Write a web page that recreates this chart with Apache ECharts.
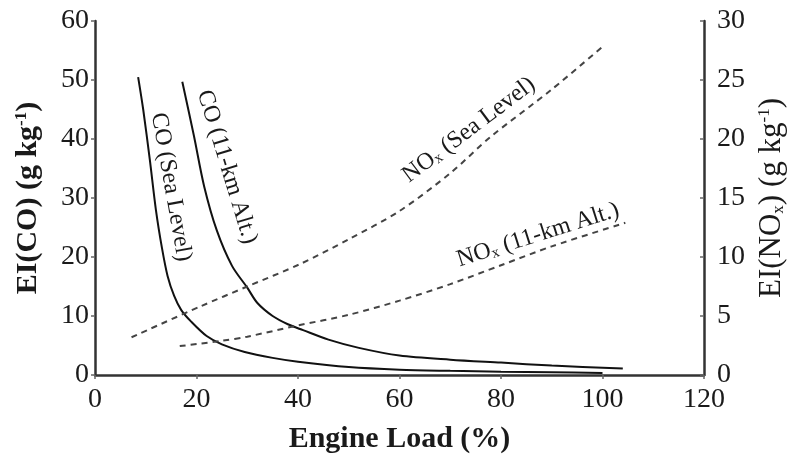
<!DOCTYPE html>
<html>
<head>
<meta charset="utf-8">
<script src="https://cdn.jsdelivr.net/npm/echarts@6/dist/echarts.min.js"></script>
<style>
  html, body { margin: 0; padding: 0; background: #fff; }
  #chart { width: 788px; height: 463px; }
</style>
</head>
<body>
<div id="chart"></div>
<script>
// engine load (%) and emission index values
const coSeaLoad = [8.5, 9.5, 10.8, 12, 13.2, 14.3, 15.6, 17, 19, 22, 25, 29.5, 35, 40, 50, 60, 70, 80, 90, 100];
const coSeaVal = [50.5, 45, 36.5, 28, 21.5, 16.8, 13.4, 11, 9, 6.6, 5.2, 3.9, 2.9, 2.25, 1.35, 0.9, 0.7, 0.55, 0.45, 0.35];

const coAltLoad = [17.2, 19.5, 21.5, 24, 27, 30, 32, 35, 38, 41, 46, 52, 60, 70, 80, 90, 104];
const coAltVal = [49.7, 40.5, 32, 24.5, 18.5, 14.8, 12.2, 10, 8.6, 7.6, 6, 4.6, 3.3, 2.6, 2.1, 1.6, 1.1];

const noxSeaLoad = [7.2, 20.7, 30, 40.4, 50, 60, 70, 78, 90, 100.2];
const noxSeaVal = [3.2, 5.8, 7.5, 9.4, 11.5, 13.9, 17.1, 20.2, 24.2, 27.9];

const noxAltLoad = [16.7, 25, 30, 40, 50, 60, 70, 80, 90, 104.5];
const noxAltVal = [2.45, 2.9, 3.25, 4.2, 5.1, 6.3, 7.7, 9.3, 10.9, 12.9];

const pairs = (xs, ys) => xs.map((x, i) => [x, ys[i]]);

const FONT = 'Liberation Serif';
const textColor = '#1a1a1a';
const axisColor = '#333';

const chart = echarts.init(document.getElementById('chart'));

const option = {
  backgroundColor: '#fff',
  animation: false,
  textStyle: { fontFamily: FONT },
  // fixed plot box, don't let the axis names squeeze it
  grid: { left: 95, right: 84, top: 21, bottom: 88, outerBoundsMode: 'none', containLabel: false },
  xAxis: {
    type: 'value',
    min: 0,
    max: 120,
    interval: 20,
    name: 'Engine Load (%)',
    nameLocation: 'middle',
    nameGap: 49,
    nameTextStyle: { fontFamily: FONT, fontSize: 30, fontWeight: 'bold', color: textColor },
    axisLine: { lineStyle: { color: axisColor, width: 2.5 } },
    axisTick: { show: true, length: 4, lineStyle: { color: '#666', width: 1.5 } },
    axisLabel: { fontFamily: FONT, fontSize: 28, color: textColor, margin: 11 },
    splitLine: { show: false }
  },
  yAxis: [
    {
      type: 'value',
      min: 0,
      max: 60,
      interval: 10,
      position: 'left',
      name: 'EI(CO) (g kg{sup|-1})',
      nameLocation: 'middle',
      nameGap: 52,
      nameTextStyle: {
        fontFamily: FONT, fontSize: 30, fontWeight: 'bold', color: textColor,
        rich: { sup: { fontFamily: FONT, fontSize: 17, fontWeight: 'bold', color: textColor, verticalAlign: 'top', padding: [0, 0, 12, 0] } }
      },
      axisLine: { show: true, lineStyle: { color: axisColor, width: 2.5 } },
      axisTick: { show: true, length: 4, lineStyle: { color: '#666', width: 1.5 } },
      axisLabel: { fontFamily: FONT, fontSize: 28, color: textColor, margin: 6 },
      splitLine: { show: false }
    },
    {
      type: 'value',
      min: 0,
      max: 30,
      interval: 5,
      position: 'right',
      name: 'EI(NO{sub|x}) (g kg{sup|-1})',
      nameLocation: 'middle',
      nameGap: 52,
      nameTextStyle: {
        fontFamily: FONT, fontSize: 31, color: textColor,
        rich: {
          sup: { fontFamily: FONT, fontSize: 17, color: textColor, verticalAlign: 'top', padding: [0, 0, 12, 0] },
          sub: { fontFamily: FONT, fontSize: 17, color: textColor, verticalAlign: 'bottom', padding: [9, 0, 0, 0] }
        }
      },
      axisLine: { show: true, lineStyle: { color: axisColor, width: 2.5 } },
      axisTick: { show: true, inside: true, length: 4, lineStyle: { color: '#666', width: 1.5 } },
      axisLabel: { fontFamily: FONT, fontSize: 28, color: textColor, margin: 13 },
      splitLine: { show: false }
    }
  ],
  series: [
    {
      name: 'CO (Sea Level)',
      type: 'line',
      yAxisIndex: 0,
      data: pairs(coSeaLoad, coSeaVal),
      smooth: 0.3,
      symbol: 'none',
      lineStyle: { color: '#111', width: 2 }
    },
    {
      name: 'CO (11-km Alt.)',
      type: 'line',
      yAxisIndex: 0,
      data: pairs(coAltLoad, coAltVal),
      smooth: 0.3,
      symbol: 'none',
      lineStyle: { color: '#111', width: 2 }
    },
    {
      name: 'NOx (Sea Level)',
      type: 'line',
      yAxisIndex: 1,
      data: pairs(noxSeaLoad, noxSeaVal),
      smooth: 0.3,
      symbol: 'none',
      lineStyle: { color: '#444', width: 2, type: [6, 5] }
    },
    {
      name: 'NOx (11-km Alt.)',
      type: 'line',
      yAxisIndex: 1,
      data: pairs(noxAltLoad, noxAltVal),
      smooth: 0.3,
      symbol: 'none',
      lineStyle: { color: '#444', width: 2, type: [6, 5] }
    }
  ]
};

chart.setOption(option);

// curve labels, placed in pixel space next to their lines
const deg = (d) => d * Math.PI / 180;
const labelStyle = (text) => ({
  text: text,
  fontFamily: FONT,
  fontSize: 24,
  fill: textColor,
  align: 'center',
  verticalAlign: 'middle',
  rich: {
    sub: { fontFamily: FONT, fontSize: 15, fill: textColor, verticalAlign: 'bottom', padding: [9, 0, 0, 0] }
  }
});

chart.setOption({
  graphic: [
    { type: 'text', x: 171, y: 187, rotation: deg(-80), style: labelStyle('CO (Sea Level)') },
    { type: 'text', x: 227, y: 167, rotation: deg(-73), style: labelStyle('CO (11-km Alt.)') },
    { type: 'text', x: 469, y: 130, rotation: deg(37), style: labelStyle('NO{sub|x} (Sea Level)') },
    { type: 'text', x: 538, y: 235, rotation: deg(17.6), style: labelStyle('NO{sub|x} (11-km Alt.)') }
  ]
});
</script>
</body>
</html>
